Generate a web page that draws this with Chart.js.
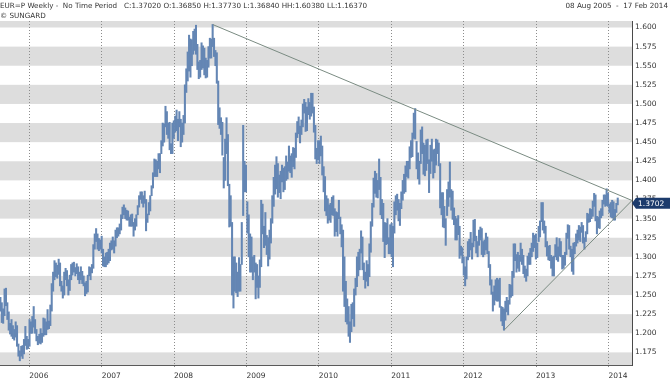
<!DOCTYPE html>
<html>
<head>
<meta charset="utf-8">
<script src="https://cdn.jsdelivr.net/npm/chart.js@4/dist/chart.umd.min.js"></script>
<style>
  html, body { margin: 0; padding: 0; background: #fff; }
</style>
</head>
<body>
<canvas id="chart1" width="670" height="381"></canvas>
<script>
// EUR=P weekly bars, 08 Aug 2005 - 17 Feb 2014 (one entry per week, Mondays)
const firstWeek = '2005-08-08';

const weekLow = [
  // 2005
  1.229,1.214,1.213,1.223, 1.236,1.218,1.204,1.199, 1.196,1.193,1.191,1.195,1.183, 1.170,1.164,1.170,1.167, 1.173,1.184,1.179,1.180,
  // 2006
  1.183,1.200,1.200,1.208,1.200, 1.190,1.185,1.187,1.186, 1.188,1.196,1.198,1.198, 1.205,1.206,1.210,1.229,
  1.255,1.270,1.274,1.272,1.277, 1.262,1.255,1.246,1.250, 1.270,1.262,1.250,1.256,1.270, 1.276,1.280,1.275,1.278,
  1.270,1.265,1.270,1.265, 1.262,1.249,1.252,1.254,1.275, 1.270,1.279,1.285,1.310, 1.320,1.310,1.308,1.310,
  // 2007
  1.305,1.288,1.287,1.287,1.290, 1.292,1.295,1.309,1.310, 1.305,1.314,1.325,1.327, 1.330,1.335,1.350,1.355,1.350,
  1.348,1.348,1.340,1.340, 1.340,1.327,1.335,1.340, 1.355,1.365,1.375,1.370,1.365, 1.370,1.334,1.345,1.355,
  1.360,1.380,1.390,1.405, 1.405,1.405,1.415,1.410,1.435, 1.445,1.450,1.470,1.460, 1.455,1.440,1.435,1.435,1.455,
  // 2008
  1.463,1.465,1.452,1.470, 1.444,1.450,1.460,1.475, 1.515,1.530,1.543,1.535,1.550, 1.565,1.570,1.565,1.545,
  1.533,1.535,1.545,1.547, 1.538,1.534,1.535,1.548,1.560, 1.560,1.575,1.562,1.550, 1.527,1.473,1.468,1.460,
  1.433,1.390,1.400,1.435,1.393, 1.339,1.340,1.250,1.233, 1.255,1.253,1.248,1.255, 1.255,1.290,1.354,1.385,1.385,
  // 2009
  1.331,1.300,1.280,1.280, 1.270,1.280,1.245,1.260, 1.246,1.260,1.287,1.330,1.312, 1.315,1.303,1.288,1.297,
  1.318,1.344,1.366,1.382, 1.389,1.378,1.384,1.376,1.398, 1.385,1.388,1.400,1.402, 1.412,1.410,1.404,1.418,1.415,
  1.430,1.456,1.461,1.449, 1.460,1.470,1.488,1.464, 1.465,1.486,1.480,1.484,1.488, 1.463,1.428,1.422,1.427,
  // 2010
  1.422,1.432,1.407,1.385, 1.360,1.354,1.344,1.348, 1.345,1.355,1.354,1.327,1.333, 1.327,1.350,1.330,1.313,
  1.255,1.235,1.215,1.212,1.196, 1.188,1.202,1.219,1.209, 1.250,1.261,1.275,1.283, 1.305,1.283,1.270,1.259,1.268,
  1.262,1.274,1.306,1.340, 1.365,1.383,1.378,1.377, 1.388,1.355,1.350,1.320,1.299, 1.316,1.317,1.304,1.304,
  // 2011
  1.300,1.287,1.331,1.355,1.361, 1.347,1.341,1.363,1.374, 1.383,1.385,1.405,1.403, 1.415,1.430,1.431,1.455,
  1.454,1.415,1.402,1.395,1.422, 1.435,1.408,1.406,1.413, 1.422,1.384,1.409,1.425, 1.403,1.410,1.420,1.435,1.419,
  1.364,1.355,1.339,1.338, 1.315,1.354,1.366,1.378,1.361, 1.349,1.342,1.322,1.322, 1.329,1.298,1.302,1.292,
  // 2012
  1.276,1.262,1.271,1.296,1.300, 1.309,1.297,1.313,1.321, 1.305,1.300,1.315,1.322, 1.303,1.300,1.303,1.309,1.304,
  1.286,1.263,1.251,1.229, 1.237,1.243,1.242,1.242, 1.234,1.216,1.210,1.204,1.217, 1.228,1.224,1.238,1.247,
  1.249,1.273,1.295,1.280, 1.285,1.281,1.294,1.290,1.278, 1.273,1.268,1.275,1.290, 1.290,1.300,1.307,1.312,1.297,
  // 2013
  1.299,1.320,1.326,1.346, 1.335,1.331,1.313,1.301, 1.296,1.295,1.285,1.275, 1.275,1.300,1.296,1.294,1.301,
  1.300,1.284,1.285,1.289, 1.303,1.324,1.310,1.300, 1.281,1.277,1.304,1.314,1.318, 1.322,1.320,1.332,1.318,
  1.310,1.320,1.330,1.345,1.346, 1.350,1.353,1.366,1.347, 1.330,1.338,1.337,1.351, 1.354,1.369,1.366,1.367,1.366,
  // 2014
  1.358,1.352,1.351,1.348, 1.348,1.358,1.368
];

const weekHigh = [
  // 2005
  1.247,1.240,1.232,1.258, 1.259,1.240,1.228,1.213, 1.218,1.210,1.205,1.215,1.210, 1.186,1.177,1.183,1.184, 1.192,1.209,1.196,1.192,
  // 2006
  1.218,1.215,1.222,1.235,1.218, 1.205,1.196,1.199,1.206, 1.200,1.220,1.219,1.215, 1.231,1.216,1.237,1.265,
  1.280,1.295,1.292,1.289,1.297, 1.292,1.268,1.262,1.280, 1.285,1.282,1.270,1.276,1.290, 1.292,1.293,1.286,1.291,
  1.287,1.280,1.287,1.281, 1.275,1.266,1.268,1.276,1.287, 1.286,1.290,1.316,1.330, 1.337,1.330,1.324,1.322,
  // 2007
  1.327,1.310,1.300,1.305,1.306, 1.310,1.318,1.321,1.326, 1.321,1.335,1.338,1.338, 1.343,1.355,1.365,1.368,1.364,
  1.361,1.360,1.352,1.355, 1.356,1.345,1.350,1.355, 1.367,1.380,1.385,1.385,1.380, 1.386,1.375,1.356,1.371,
  1.380,1.393,1.410,1.428, 1.427,1.425,1.435,1.435,1.452, 1.475,1.474,1.497,1.490, 1.475,1.476,1.448,1.475,1.478,
  // 2008
  1.484,1.492,1.480,1.490, 1.480,1.475,1.485,1.525, 1.546,1.568,1.590,1.585,1.584, 1.595,1.598,1.603,1.578,
  1.555,1.557,1.580,1.576, 1.573,1.560,1.557,1.575,1.586, 1.585,1.604,1.586,1.570, 1.567,1.530,1.495,1.482,
  1.476,1.430,1.454,1.482,1.460, 1.395,1.380,1.345,1.300, 1.300,1.292,1.280,1.299, 1.290,1.345,1.472,1.425,1.420,
  // 2009
  1.372,1.355,1.330,1.326, 1.300,1.302,1.292,1.290, 1.275,1.296,1.374,1.369,1.340, 1.358,1.328,1.325,1.335,
  1.350,1.380,1.404,1.420, 1.431,1.422,1.407,1.412,1.420, 1.416,1.418,1.432,1.424, 1.445,1.432,1.435,1.443,1.442,
  1.462,1.477,1.483,1.471, 1.479,1.500,1.506,1.502, 1.496,1.507,1.502,1.514,1.514, 1.496,1.472,1.442,1.452,
  // 2010
  1.452,1.458,1.445,1.418, 1.405,1.380,1.376,1.368, 1.370,1.378,1.380,1.363,1.359, 1.358,1.374,1.352,1.342,
  1.335,1.300,1.268,1.245,1.235, 1.215,1.238,1.240,1.258, 1.272,1.300,1.306,1.310, 1.334,1.326,1.292,1.280,1.295,
  1.290,1.317,1.346,1.370, 1.403,1.412,1.409,1.400, 1.428,1.404,1.375,1.370,1.345, 1.344,1.350,1.325,1.342,
  // 2011
  1.344,1.340,1.372,1.380,1.382, 1.375,1.370,1.385,1.400, 1.408,1.419,1.425,1.425, 1.444,1.452,1.462,1.488,
  1.494,1.451,1.436,1.425,1.466, 1.470,1.449,1.446,1.453, 1.454,1.427,1.446,1.454, 1.440,1.441,1.454,1.453,1.449,
  1.422,1.384,1.384,1.366, 1.350,1.388,1.398,1.424,1.388, 1.386,1.364,1.353,1.350, 1.354,1.340,1.314,1.312,
  // 2012
  1.300,1.287,1.300,1.320,1.323, 1.332,1.318,1.348,1.349, 1.327,1.320,1.335,1.339, 1.337,1.320,1.322,1.331,1.326,
  1.307,1.290,1.270,1.254, 1.262,1.270,1.272,1.270, 1.272,1.235,1.234,1.232,1.242, 1.247,1.243,1.264,1.263,
  1.281,1.317,1.317,1.303, 1.306,1.302,1.318,1.310,1.302, 1.288,1.284,1.301,1.305, 1.311,1.318,1.331,1.328,1.330,
  // 2013
  1.318,1.340,1.347,1.371, 1.371,1.347,1.340,1.320, 1.314,1.315,1.302,1.300, 1.301,1.316,1.325,1.313,1.324,
  1.320,1.302,1.302,1.306, 1.331,1.342,1.341,1.314, 1.310,1.318,1.319,1.330,1.335, 1.341,1.339,1.345,1.341,
  1.325,1.333,1.357,1.356,1.363, 1.362,1.373,1.383,1.381, 1.353,1.352,1.360,1.363, 1.374,1.381,1.381,1.389,1.383,
  // 2014
  1.369,1.371,1.374,1.372, 1.362,1.370,1.377
];

const yearLabels = [2006, 2007, 2008, 2009, 2010, 2011, 2012, 2013, 2014];
const priceTicks = [1.175, 1.200, 1.225, 1.250, 1.275, 1.300, 1.325, 1.350, 1.375,
                    1.400, 1.425, 1.450, 1.475, 1.500, 1.525, 1.550, 1.575, 1.600];

// trend lines: [date, price] end points
const upperTrend = [['2008-07-15', 1.6038], ['2014-04-30', 1.3737]];
const lowerTrend = [['2012-07-24', 1.2042], ['2014-04-30', 1.3737]];

const lastClose = 1.3702;
const headerText = 'EUR=P Weekly -  No Time Period   C:1.37020 O:1.36850 H:1.37730 L:1.36840 HH:1.60380 LL:1.16370';
const sourceText = '\u00a9 SUNGARD';
const rangeText = '08 Aug 2005  -  17 Feb 2014';

const DAY = 86400000;
const toDay = s => Date.parse(s) / DAY;
const start = toDay(firstWeek);

const bars = weekLow.map((lo, i) => ({ x: start + 7 * i, y: [lo, weekHigh[i]] }));
const trendPoints = t => t.map(p => ({ x: toDay(p[0]), y: p[1] }));

const FONT = '"DejaVu Sans", Verdana, sans-serif';

const bandsPlugin = {
    id: 'bands',
    beforeDraw(chart) {
        const { ctx, chartArea, scales } = chart;
        const y = scales.y;
        ctx.save();
        ctx.fillStyle = '#fff';
        ctx.fillRect(0, 0, chart.width, chart.height);
        ctx.beginPath();
        ctx.rect(chartArea.left, chartArea.top, chartArea.right - chartArea.left, chartArea.bottom - chartArea.top);
        ctx.clip();
        ctx.fillStyle = '#dddddd';
        for (let v = 1.15; v < 1.65; v += 0.05) {
            const top = y.getPixelForValue(v + 0.025);
            const bottom = y.getPixelForValue(v);
            ctx.fillRect(chartArea.left, top, chartArea.right - chartArea.left, bottom - top);
        }
        ctx.restore();
    }
};

const labelsPlugin = {
    id: 'labels',
    afterDraw(chart) {
        const { ctx, chartArea, scales } = chart;
        ctx.save();
        ctx.font = '7.2px ' + FONT;
        ctx.fillStyle = '#333';
        ctx.textBaseline = 'top';
        ctx.textAlign = 'left';
        ctx.fillText(headerText, 0, 3);
        ctx.fillText(sourceText, 0, 13);
        ctx.textAlign = 'right';
        ctx.fillText(rangeText, 668, 3);

        // last price box on the axis
        const py = scales.y.getPixelForValue(lastClose);
        const x0 = chartArea.right;
        ctx.font = '7.5px ' + FONT;
        ctx.fillStyle = '#1c3b6c';
        ctx.beginPath();
        ctx.moveTo(x0, py);
        ctx.lineTo(x0 + 4, py - 5.5);
        ctx.lineTo(chart.width, py - 5.5);
        ctx.lineTo(chart.width, py + 5.5);
        ctx.lineTo(x0 + 4, py + 5.5);
        ctx.closePath();
        ctx.fill();
        ctx.fillStyle = '#fff';
        ctx.textAlign = 'left';
        ctx.textBaseline = 'middle';
        ctx.fillText(lastClose.toFixed(4), x0 + 6, py + 0.5);
        ctx.restore();
    }
};

const ctx = document.getElementById('chart1').getContext('2d');
const chart1 = new Chart(ctx, {
    type: 'bar',
    data: {
        datasets: [
            {
                type: 'line',
                data: trendPoints(upperTrend),
                borderColor: '#7a8b82',
                borderWidth: 1,
                pointRadius: 0,
                fill: false
            },
            {
                type: 'line',
                data: trendPoints(lowerTrend),
                borderColor: '#7a8b82',
                borderWidth: 1,
                pointRadius: 0,
                fill: false
            },
            {
                label: 'EUR=P',
                data: bars,
                backgroundColor: '#6486b4',
                barThickness: 1.4
            }
        ]
    },
    options: {
        responsive: false,
        animation: false,
        devicePixelRatio: 1,
        layout: { padding: { top: 21, left: 0, right: 0, bottom: 0 } },
        plugins: {
            legend: { display: false },
            tooltip: { enabled: false },
            title: { display: false }
        },
        scales: {
            x: {
                type: 'linear',
                offset: false,
                min: toDay('2005-08-06'),
                max: toDay('2014-04-30'),
                afterBuildTicks: scale => {
                    scale.ticks = yearLabels.map(yr => ({ value: Date.UTC(yr, 0, 1) / DAY }));
                },
                afterFit: scale => { scale.height = 16; },
                grid: {
                    offset: false,
                    color: '#8c8c8c',
                    tickLength: 4,
                    tickColor: '#8c8c8c',
                    tickBorderDash: [1, 2]
                },
                border: { display: true, color: '#5a5a5a', width: 1, dash: [1, 2] },
                ticks: {
                    autoSkip: false,
                    maxRotation: 0,
                    align: 'start',
                    padding: 3,
                    color: '#333',
                    font: { family: FONT, size: 7.5 },
                    callback: v => String(new Date(v * DAY).getUTCFullYear())
                }
            },
            y: {
                position: 'right',
                min: 1.1585,
                max: 1.6085,
                afterBuildTicks: scale => {
                    scale.ticks = priceTicks.map(v => ({ value: v }));
                },
                afterFit: scale => { scale.width = 38; },
                grid: { display: false, drawTicks: false },
                border: { display: true, color: '#4a4a4a', width: 1 },
                ticks: {
                    padding: 3,
                    color: '#333',
                    font: { family: FONT, size: 7.5 },
                    callback: v => v.toFixed(3)
                }
            }
        }
    },
    plugins: [bandsPlugin, labelsPlugin]
});
</script>
</body>
</html>
